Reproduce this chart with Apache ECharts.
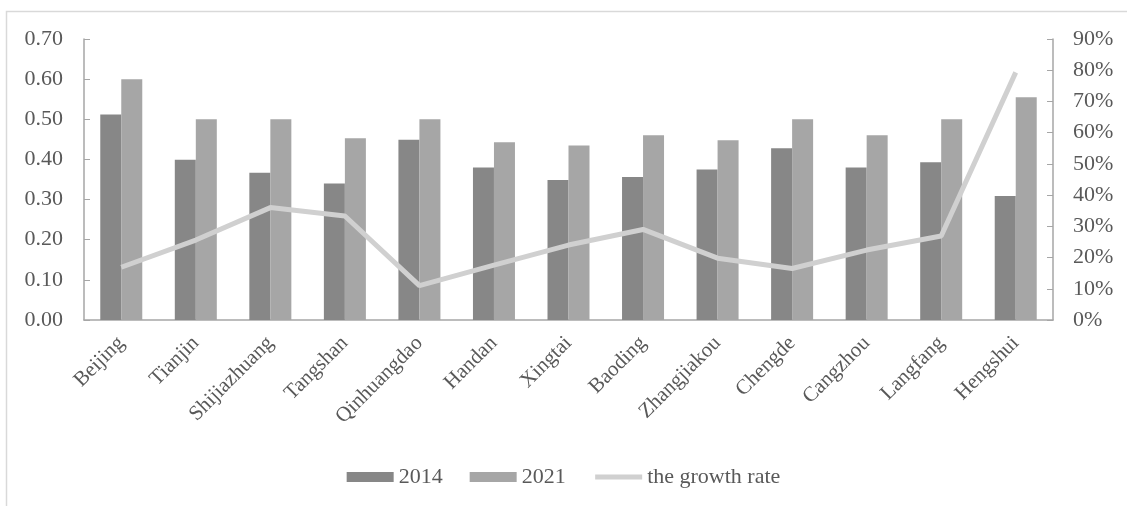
<!DOCTYPE html>
<html lang="en">
<head>
  <meta charset="UTF-8">
  <title>2014 vs 2021</title>
  <style>
    body {
      margin: 0;
      padding: 0;
      background: #fff;
    }
  </style>
</head>
<body>
  <div id="main" style="width: 1127px; height: 506px;"></div>
</body>
</html>
<script src="https://cdnjs.cloudflare.com/ajax/libs/echarts/6.0.0/echarts.min.js"></script>
<script>
var cities = ['Beijing', 'Tianjin', 'Shijiazhuang', 'Tangshan', 'Qinhuangdao', 'Handan', 'Xingtai',
  'Baoding', 'Zhangjiakou', 'Chengde', 'Cangzhou', 'Langfang', 'Hengshui']
var values2014 = [0.512, 0.399, 0.367, 0.340, 0.449, 0.380, 0.349, 0.356, 0.375, 0.428, 0.380, 0.393, 0.309]
var values2021 = [0.600, 0.500, 0.500, 0.453, 0.500, 0.443, 0.435, 0.460, 0.448, 0.500, 0.460, 0.500, 0.555]
var growthRate = [16.9, 25.6, 36.0, 33.3, 11.0, 17.6, 24.0, 29.0, 19.8, 16.5, 22.4, 26.9, 79.3]

;(function() {
  var chart = echarts.init(document.getElementById('main'))
  var font = 'Liberation Serif'
  var textColor = '#595959'
  var axisColor = '#a6a6a6'
  var lineColor = '#d0d0d0'

  var option = {
    animation: false,
    textStyle: { fontFamily: font, color: textColor },
    grid: { left: 84, right: 74, top: 39, bottom: 186 },
    graphic: [
      {
        type: 'polyline',
        shape: { points: [[6.5, 506], [6.5, 11.5], [1127, 11.5]] },
        style: { stroke: '#d9d9d9', lineWidth: 1.5, fill: null },
        silent: true
      }
    ],
    legend: {
      bottom: 13,
      left: 'center',
      itemWidth: 47,
      itemHeight: 10,
      itemGap: 27,
      textStyle: { fontFamily: font, fontSize: 22, color: textColor },
      data: [
        { name: '2014', icon: 'rect' },
        { name: '2021', icon: 'rect' },
        {
          name: 'the growth rate',
          itemStyle: { opacity: 0 },
          lineStyle: { color: lineColor, width: 5 }
        }
      ]
    },
    xAxis: {
      type: 'category',
      data: cities,
      axisLine: { lineStyle: { color: axisColor, width: 1.5 } },
      axisTick: { inside: true, length: 5, lineStyle: { color: axisColor } },
      axisLabel: {
        rotate: 45,
        margin: 20,
        fontFamily: font,
        fontSize: 21,
        color: textColor
      }
    },
    yAxis: [
      {
        type: 'value',
        min: 0,
        max: 0.7,
        interval: 0.1,
        splitLine: { show: false },
        axisLine: { show: true, lineStyle: { color: axisColor, width: 1.5 } },
        axisTick: { show: true, inside: true, length: 6, lineStyle: { color: axisColor } },
        axisLabel: {
          margin: 21,
          fontFamily: font,
          fontSize: 22,
          color: textColor,
          formatter: function(v) { return v.toFixed(2) }
        }
      },
      {
        type: 'value',
        min: 0,
        max: 90,
        interval: 10,
        splitLine: { show: false },
        axisLine: { show: true, lineStyle: { color: axisColor, width: 1.5 } },
        axisTick: { show: true, inside: true, length: 6, lineStyle: { color: axisColor } },
        axisLabel: {
          margin: 20,
          fontFamily: font,
          fontSize: 22,
          color: textColor,
          formatter: '{value}%'
        }
      }
    ],
    series: [
      {
        name: '2014',
        type: 'bar',
        data: values2014,
        barWidth: 21,
        barGap: '0%',
        itemStyle: { color: '#878787' }
      },
      {
        name: '2021',
        type: 'bar',
        data: values2021,
        barWidth: 21,
        itemStyle: { color: '#a6a6a6' }
      },
      {
        name: 'the growth rate',
        type: 'line',
        yAxisIndex: 1,
        data: growthRate,
        symbol: 'none',
        z: 5,
        itemStyle: { color: lineColor },
        lineStyle: { color: lineColor, width: 5 }
      }
    ]
  }
  chart.setOption(option)
})()
</script>
